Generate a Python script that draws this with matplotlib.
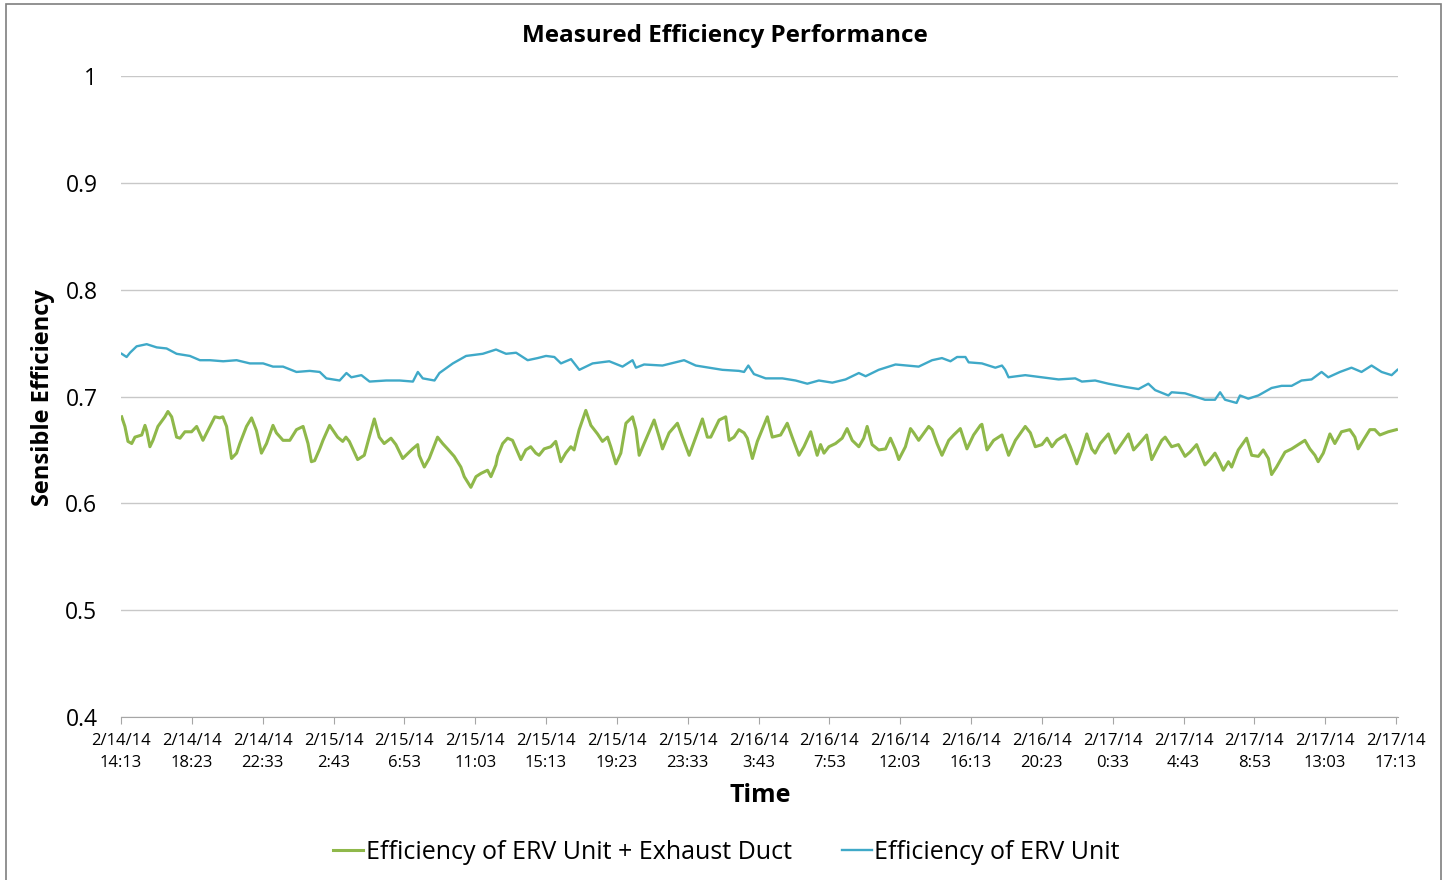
import numpy as np
import pandas as pd
import matplotlib
matplotlib.use('Agg')
import matplotlib.pyplot as plt
from matplotlib.patches import Rectangle

# hours since 2/14/14 14:13, sensible efficiency
duct_hours = [0.04, 0.23, 0.41, 0.63, 0.82, 1.22, 1.41, 1.51, 1.70, 1.88, 2.17, 2.58, 2.76, 2.98, 3.27,
              3.47, 3.76, 4.15, 4.45, 4.82, 5.23, 5.52, 5.81, 5.99, 6.21, 6.50, 6.80, 6.99, 7.38, 7.68,
              7.97, 8.26, 8.56, 8.94, 9.14, 9.53, 9.93, 10.32, 10.71, 11.00, 11.20, 11.39, 11.69, 11.88,
              12.27, 12.74, 13.04, 13.23, 13.43, 13.92, 14.31, 14.60, 14.90, 15.19, 15.48, 15.88, 16.17,
              16.57, 16.96, 17.15, 17.45, 17.54, 17.84, 18.13, 18.62, 18.92, 19.21, 19.60, 19.99, 20.19,
              20.58, 20.88, 21.17, 21.56, 21.76, 22.05, 22.15, 22.45, 22.74, 23.03, 23.33, 23.52, 23.81,
              24.10, 24.40, 24.59, 24.89, 25.28, 25.57, 25.87, 26.16, 26.46, 26.65, 26.95, 27.34, 27.64,
              28.03, 28.32, 28.62, 28.81, 29.11, 29.40, 29.70, 30.09, 30.29, 30.48, 30.77, 31.36, 31.66,
              31.85, 32.24, 32.73, 33.02, 33.42, 33.81, 34.20, 34.49, 34.69, 35.18, 35.57, 35.77, 36.06,
              36.35, 36.65, 36.84, 37.14, 37.43, 38.02, 38.31, 38.80, 39.19, 39.48, 39.88, 40.17, 40.57,
              40.95, 41.15, 41.35, 41.64, 42.03, 42.42, 42.71, 43.01, 43.40, 43.69, 43.89, 44.18, 44.57,
              44.97, 45.26, 45.56, 45.75, 46.14, 46.44, 46.63, 46.92, 47.51, 47.71, 48.00, 48.29, 48.69,
              48.98, 49.37, 49.76, 50.15, 50.55, 50.64, 50.94, 51.33, 51.82, 51.92, 52.21, 52.61, 53.19,
              53.49, 53.78, 54.17, 54.47, 54.76, 55.05, 55.54, 55.84, 56.22, 56.52, 56.81, 57.10, 57.30,
              57.60, 58.08, 58.48, 58.87, 59.26, 59.56, 59.85, 60.33, 60.63, 60.92, 61.22, 61.42, 61.80,
              62.20, 62.59, 62.88, 63.27, 63.47, 63.76, 64.06, 64.35, 64.55, 64.84, 65.14, 65.33, 65.72,
              66.21, 66.51, 66.90, 67.19, 67.49, 67.68, 67.97, 68.47, 68.86, 69.25, 69.64, 69.93, 70.23,
              70.42, 70.72, 71.11, 71.40, 71.79, 72.28, 72.58, 72.77, 73.07, 73.46, 73.75, 74.05, 74.54,
              75.02]
duct_eff = [0.681, 0.672, 0.658, 0.656, 0.662, 0.664, 0.673, 0.668, 0.653, 0.659, 0.672, 0.681, 0.686,
            0.681, 0.662, 0.661, 0.667, 0.667, 0.672, 0.659, 0.672, 0.681, 0.680, 0.681, 0.672, 0.642,
            0.647, 0.656, 0.672, 0.680, 0.668, 0.647, 0.656, 0.673, 0.666, 0.659, 0.659, 0.669, 0.672,
            0.656, 0.639, 0.640, 0.651, 0.659, 0.673, 0.662, 0.658, 0.662, 0.658, 0.641, 0.645, 0.662,
            0.679, 0.662, 0.656, 0.661, 0.655, 0.642, 0.648, 0.651, 0.655, 0.645, 0.634, 0.642, 0.662,
            0.656, 0.651, 0.644, 0.634, 0.625, 0.615, 0.625, 0.628, 0.631, 0.625, 0.636, 0.644, 0.656,
            0.661, 0.659, 0.648, 0.641, 0.650, 0.653, 0.647, 0.645, 0.651, 0.653, 0.658, 0.639, 0.647,
            0.653, 0.650, 0.669, 0.687, 0.673, 0.665, 0.658, 0.662, 0.653, 0.637, 0.647, 0.675, 0.681,
            0.669, 0.645, 0.656, 0.678, 0.662, 0.651, 0.666, 0.675, 0.662, 0.645, 0.662, 0.679, 0.662,
            0.662, 0.678, 0.681, 0.659, 0.662, 0.669, 0.666, 0.661, 0.642, 0.658, 0.681, 0.662, 0.664,
            0.675, 0.662, 0.645, 0.653, 0.667, 0.645, 0.655, 0.647, 0.653, 0.656, 0.661, 0.670, 0.659,
            0.653, 0.661, 0.672, 0.655, 0.650, 0.651, 0.661, 0.650, 0.641, 0.653, 0.670, 0.666, 0.659,
            0.672, 0.669, 0.656, 0.645, 0.659, 0.664, 0.670, 0.651, 0.664, 0.673, 0.674, 0.650, 0.659,
            0.664, 0.659, 0.645, 0.659, 0.672, 0.666, 0.653, 0.655, 0.661, 0.653, 0.659, 0.664, 0.653,
            0.637, 0.650, 0.665, 0.651, 0.647, 0.656, 0.665, 0.647, 0.656, 0.665, 0.650, 0.655, 0.664,
            0.641, 0.650, 0.659, 0.662, 0.653, 0.655, 0.644, 0.648, 0.655, 0.647, 0.636, 0.641, 0.647,
            0.641, 0.631, 0.639, 0.634, 0.650, 0.661, 0.645, 0.644, 0.650, 0.642, 0.627, 0.634, 0.648,
            0.651, 0.655, 0.659, 0.651, 0.645, 0.639, 0.647, 0.665, 0.656, 0.667, 0.669, 0.662, 0.651,
            0.659, 0.669, 0.669, 0.664, 0.667, 0.669]

erv_hours = [0.04, 0.33, 0.53, 0.92, 1.51, 2.10, 2.68, 3.27, 4.05, 4.64, 5.23, 6.01, 6.80, 7.58, 8.36,
             8.94, 9.53, 10.32, 11.10, 11.69, 12.08, 12.86, 13.26, 13.55, 14.14, 14.62, 15.60, 16.39,
             17.17, 17.46, 17.75, 18.44, 18.73, 19.52, 20.30, 21.28, 22.06, 22.65, 23.24, 23.92, 24.51,
             25.00, 25.49, 25.88, 26.47, 26.96, 27.74, 28.72, 29.50, 30.09, 30.29, 30.77, 31.85, 33.12,
             33.81, 34.59, 35.37, 36.35, 36.65, 36.90, 37.23, 37.92, 38.90, 39.68, 40.37, 41.05, 41.84,
             42.62, 43.40, 43.80, 44.57, 45.56, 46.92, 47.71, 48.29, 48.79, 49.18, 49.67, 49.86, 50.64,
             51.43, 51.82, 52.01, 52.21, 53.19, 54.17, 55.15, 56.13, 56.52, 57.30, 58.08, 59.06, 59.85,
             60.43, 60.83, 61.61, 61.80, 62.59, 63.18, 63.76, 64.35, 64.65, 64.94, 65.62, 65.82, 66.31,
             66.90, 67.68, 68.27, 68.86, 69.44, 70.03, 70.62, 71.01, 71.70, 72.38, 72.97, 73.56, 74.15,
             74.74, 75.08]
erv_eff = [0.740, 0.737, 0.741, 0.747, 0.749, 0.746, 0.745, 0.740, 0.738, 0.734, 0.734, 0.733, 0.734,
           0.731, 0.731, 0.728, 0.728, 0.723, 0.724, 0.723, 0.717, 0.715, 0.722, 0.718, 0.720, 0.714,
           0.715, 0.715, 0.714, 0.723, 0.717, 0.715, 0.722, 0.731, 0.738, 0.740, 0.744, 0.740, 0.741,
           0.734, 0.736, 0.738, 0.737, 0.731, 0.735, 0.725, 0.731, 0.733, 0.728, 0.734, 0.727, 0.730,
           0.729, 0.734, 0.729, 0.727, 0.725, 0.724, 0.723, 0.729, 0.721, 0.717, 0.717, 0.715, 0.712,
           0.715, 0.713, 0.716, 0.722, 0.719, 0.725, 0.730, 0.728, 0.734, 0.736, 0.733, 0.737, 0.737,
           0.732, 0.731, 0.727, 0.729, 0.725, 0.718, 0.720, 0.718, 0.716, 0.717, 0.714, 0.715, 0.712,
           0.709, 0.707, 0.712, 0.706, 0.701, 0.704, 0.703, 0.700, 0.697, 0.697, 0.704, 0.697, 0.694,
           0.701, 0.698, 0.701, 0.708, 0.710, 0.710, 0.715, 0.716, 0.723, 0.718, 0.723, 0.727, 0.723,
           0.729, 0.723, 0.720, 0.725]

start = pd.Timestamp('2014-02-14 14:13')
tick_step_min = 250
n_ticks = 19
tick_times = [start + pd.Timedelta(minutes=tick_step_min * i) for i in range(n_ticks)]
tick_labels = ['{}/{}/{}\n{}:{:02d}'.format(t.month, t.day, t.year % 100, t.hour, t.minute)
               for t in tick_times]
y_ticks = [0.4, 0.5, 0.6, 0.7, 0.8, 0.9, 1.0]
y_labels = ['0.4', '0.5', '0.6', '0.7', '0.8', '0.9', '1']

plt.rcParams['font.family'] = ['Open Sans', 'DejaVu Sans']

fig = plt.figure(figsize=(14.44, 8.8), dpi=100)
ax = fig.add_axes([0.0838, 0.1852, 0.8844, 0.7284])

green = '#8FB84A'
blue = '#3FA9C8'
ax.plot(np.array(duct_hours), duct_eff, color=green, lw=2.2,
        label='Efficiency of ERV Unit + Exhaust Duct')
ax.plot(np.array(erv_hours), erv_eff, color=blue, lw=1.7, label='Efficiency of ERV Unit')

tick_hours = [i * tick_step_min / 60 for i in range(n_ticks)]
ax.set_xlim(0, 75.12)
ax.set_ylim(0.4, 1.0)
ax.set_xticks(tick_hours)
ax.set_xticklabels(tick_labels, fontsize=12, linespacing=1.5)
ax.set_yticks(y_ticks)
ax.set_yticklabels(y_labels, fontsize=16.5)
ax.grid(axis='y', color='#C8C8C8', lw=1.0)
ax.set_axisbelow(True)
for s in ['top', 'right', 'left']:
    ax.spines[s].set_visible(False)
ax.spines['bottom'].set_color('#A6A6A6')
ax.tick_params(axis='x', length=5, color='#A6A6A6', pad=6.5)
ax.tick_params(axis='y', length=0, pad=17)

fig.text(0.502, 1 - 36.5 / 880, 'Measured Efficiency Performance', fontsize=17.5,
         fontweight='bold', ha='center', va='center')
ax.set_xlabel('Time', fontsize=18, fontweight='bold', va='center')
ax.xaxis.set_label_coords(0.5004, -0.1217)
ax.set_ylabel('Sensible Efficiency', fontsize=17, fontweight='bold', va='center')
ax.yaxis.set_label_coords(-0.061, 0.499)

fig.legend(handles=ax.get_lines(), loc='center', bbox_to_anchor=(0.503, 1 - 852.5 / 880), ncol=2,
           frameon=False, fontsize=18, handlelength=1.2, handletextpad=0.1, columnspacing=2.0)

fig.patches.append(Rectangle((0.004, -0.01), 0.994, 1.005, transform=fig.transFigure,
                             fill=False, edgecolor='#7F7F7F', lw=1.2))

fig.savefig('out.png', dpi=100)
